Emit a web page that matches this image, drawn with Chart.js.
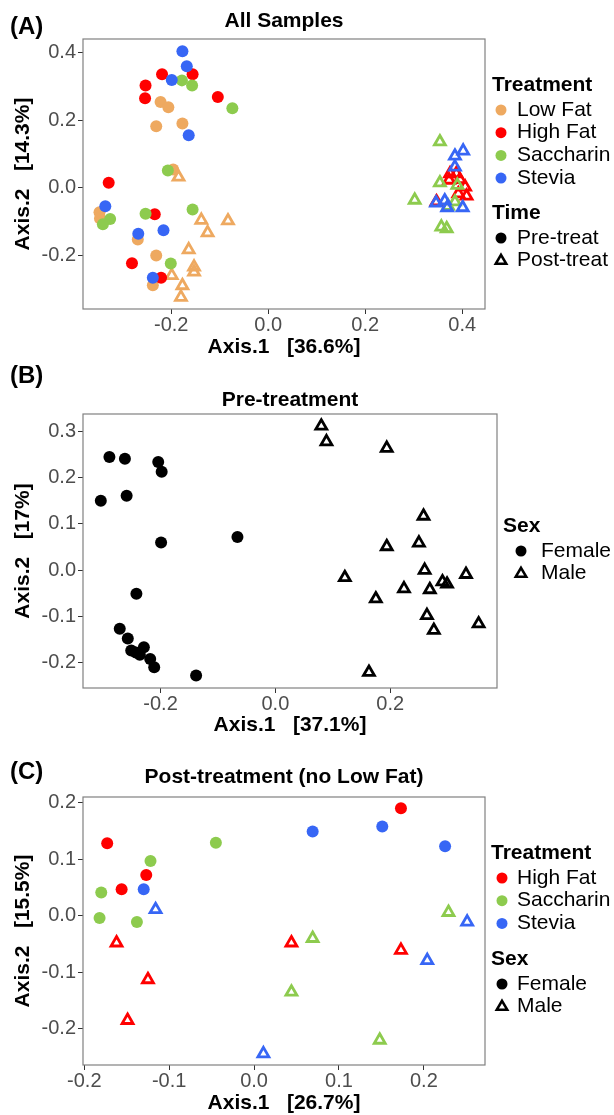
<!DOCTYPE html>
<html>
<head>
<meta charset="utf-8">
<script src="https://cdn.jsdelivr.net/npm/chart.js@4.4.0/dist/chart.umd.min.js"></script>
<style>
    body { margin: 0; background: #fff; width: 614px; height: 1115px; position: relative; overflow: hidden; }
    canvas { position: absolute; left: 0; }
</style>
</head>
<body>
<canvas id="chartA" width="614" height="358" style="top:0px"></canvas>
<canvas id="chartB" width="614" height="385" style="top:358px"></canvas>
<canvas id="chartC" width="614" height="372" style="top:743px"></canvas>
<script>
// ---- data: [Axis.1, Axis.2] ----
// (A) all samples, circles = pre-treat, triangles = post-treat
const aLowFatPre = [[-0.222, 0.253], [-0.206, 0.238], [-0.231, 0.182], [-0.177, 0.190], [-0.196, 0.054],
    [-0.348, -0.072], [-0.347, -0.090], [-0.269, -0.152], [-0.231, -0.199], [-0.238, -0.287]];
const aHighFatPre = [[-0.219, 0.335], [-0.156, 0.335], [-0.253, 0.302], [-0.254, 0.264], [-0.104, 0.268],
    [-0.329, 0.015], [-0.234, -0.078], [-0.281, -0.222], [-0.221, -0.265]];
const aSaccharinPre = [[-0.178, 0.317], [-0.157, 0.302], [-0.074, 0.235], [-0.207, 0.051], [-0.253, -0.076],
    [-0.156, -0.064], [-0.326, -0.092], [-0.341, -0.107], [-0.201, -0.223]];
const aSteviaPre = [[-0.177, 0.403], [-0.168, 0.359], [-0.199, 0.318], [-0.164, 0.155], [-0.336, -0.054],
    [-0.268, -0.135], [-0.216, -0.125], [-0.238, -0.265]];
const aLowFatPost = [[-0.185, 0.032], [-0.138, -0.095], [-0.125, -0.132], [-0.083, -0.097], [-0.164, -0.182],
    [-0.153, -0.233], [-0.153, -0.248], [-0.199, -0.258], [-0.177, -0.288], [-0.180, -0.322]];
const aHighFatPost = [[0.375, 0.042], [0.388, 0.042], [0.373, 0.023], [0.395, 0.025], [0.406, 0.003],
    [0.409, -0.024], [0.392, -0.017], [0.347, -0.041]];
const aSaccharinPost = [[0.354, 0.136], [0.354, 0.015], [0.302, -0.036], [0.390, 0.008], [0.357, -0.115],
    [0.368, -0.120], [0.385, -0.041], [0.371, -0.054]];
const aSteviaPost = [[0.402, 0.109], [0.385, 0.094], [0.385, 0.062], [0.346, -0.044], [0.364, -0.038],
    [0.369, -0.058], [0.401, -0.058]];

// (B) pre-treatment by sex
const bFemale = [[-0.304, 0.150], [-0.289, 0.245], [-0.262, 0.241], [-0.259, 0.161], [-0.204, 0.234],
    [-0.198, 0.213], [-0.199, 0.060], [-0.066, 0.072], [-0.242, -0.051], [-0.271, -0.127], [-0.257, -0.148],
    [-0.251, -0.174], [-0.243, -0.178], [-0.236, -0.183], [-0.229, -0.167], [-0.218, -0.192], [-0.211, -0.210],
    [-0.138, -0.228]];
const bMale = [[0.080, 0.312], [0.089, 0.278], [0.194, 0.264], [0.258, 0.117], [0.194, 0.051], [0.250, 0.059],
    [0.121, -0.016], [0.260, 0.000], [0.332, -0.009], [0.224, -0.040], [0.269, -0.042], [0.291, -0.025],
    [0.299, -0.030], [0.175, -0.062], [0.264, -0.098], [0.276, -0.130], [0.354, -0.116], [0.163, -0.221]];

// (C) post-treatment, no low fat
const cHighFatFemale = [[-0.173, 0.128], [-0.156, 0.047], [-0.127, 0.072], [0.173, 0.190]];
const cSaccharinFemale = [[-0.122, 0.097], [-0.180, 0.041], [-0.182, -0.004], [-0.138, -0.011], [-0.045, 0.129]];
const cSteviaFemale = [[-0.130, 0.047], [0.069, 0.149], [0.151, 0.158], [0.225, 0.123]];
const cHighFatMale = [[-0.162, -0.048], [-0.125, -0.113], [-0.149, -0.185], [0.044, -0.048], [0.173, -0.061]];
const cSaccharinMale = [[0.044, -0.135], [0.069, -0.040], [0.229, 0.006], [0.148, -0.220]];
const cSteviaMale = [[-0.116, 0.011], [0.011, -0.244], [0.251, -0.011], [0.204, -0.079]];

// tick labels
const aXTicks = [-0.2, 0.0, 0.2, 0.4];
const aYTicks = [-0.2, 0.0, 0.2, 0.4];
const bXTicks = [-0.2, 0.0, 0.2];
const bYTicks = [-0.2, -0.1, 0.0, 0.1, 0.2, 0.3];
const cXTicks = [-0.2, -0.1, 0.0, 0.1, 0.2];
const cYTicks = [-0.2, -0.1, 0.0, 0.1, 0.2];

const FONT = '"Liberation Sans", Arial, Helvetica, sans-serif';
const LOW = '#EEA960', HIGH = '#FF0000', SAC = '#8DCB4E', STE = '#3766F5', BLK = '#000000';

const toXY = arr => arr.map(p => ({ x: p[0], y: p[1] }));

const circles = (arr, color) => ({
    data: toXY(arr),
    pointStyle: 'circle',
    pointRadius: 6,
    pointBackgroundColor: color,
    pointBorderColor: color,
    pointBorderWidth: 0
});
const triangles = (arr, color) => ({
    data: toXY(arr),
    pointStyle: 'triangle',
    pointRadius: 6.3,
    pointBackgroundColor: 'rgba(0,0,0,0)',
    pointBorderColor: color,
    pointBorderWidth: 2.8
});

// box, panel tag, title and legend all drawn on the canvas
const decor = {
    id: 'decor',
    afterDraw(chart, args, o) {
        const ctx = chart.ctx, a = chart.chartArea;
        ctx.save();
        ctx.strokeStyle = '#808080';
        ctx.lineWidth = 1.2;
        ctx.strokeRect(a.left, a.top, a.right - a.left, a.bottom - a.top);

        ctx.fillStyle = '#000';
        ctx.textBaseline = 'middle';
        ctx.textAlign = 'left';
        ctx.font = 'bold 24px ' + FONT;
        ctx.fillText(o.tag, 10, o.tagY);
        ctx.textAlign = 'center';
        ctx.font = 'bold 21px ' + FONT;
        ctx.fillText(o.title, (a.left + a.right) / 2, o.titleY);

        const lg = o.legend;
        lg.groups.forEach(g => {
            ctx.textAlign = 'left';
            ctx.fillStyle = '#000';
            ctx.font = 'bold 21px ' + FONT;
            ctx.fillText(g.title, lg.x, g.y);
            g.items.forEach((it, i) => {
                const y = g.y + 25 + i * 22.7;
                if (it.sym === 'circle') {
                    ctx.fillStyle = it.color;
                    ctx.beginPath();
                    ctx.arc(lg.symX, y, 5.5, 0, Math.PI * 2);
                    ctx.fill();
                } else {
                    ctx.strokeStyle = it.color;
                    ctx.lineWidth = 2.6;
                    ctx.beginPath();
                    ctx.moveTo(lg.symX, y - 5.8);
                    ctx.lineTo(lg.symX + 5.2, y + 3);
                    ctx.lineTo(lg.symX - 5.2, y + 3);
                    ctx.closePath();
                    ctx.stroke();
                }
                ctx.fillStyle = '#000';
                ctx.font = '21px ' + FONT;
                ctx.fillText(it.label, lg.textX, y);
            });
        });
        ctx.restore();
    }
};

const makePanel = (id, p) => {
    const axis = (min, max, ticks, title, horizontal, size, titlePad) => ({
        type: 'linear',
        min: min,
        max: max,
        afterBuildTicks: s => { s.ticks = ticks.map(v => ({ value: v })); },
        afterFit: s => { if (horizontal) s.height = size; else s.width = size; },
        grid: { drawOnChartArea: false, drawTicks: true, tickLength: 5, color: '#333333', lineWidth: 1 },
        border: { display: false },
        ticks: {
            color: '#4D4D4D',
            font: { family: FONT, size: 20, lineHeight: 1 },
            padding: horizontal ? 1 : 2,
            maxRotation: 0,
            callback: v => v.toFixed(1)
        },
        title: {
            display: true,
            text: title,
            color: '#000',
            font: { family: FONT, size: 21, weight: 'bold', lineHeight: 1 },
            padding: titlePad
        }
    });
    return new Chart(document.getElementById(id), {
        type: 'scatter',
        data: { datasets: p.datasets },
        options: {
            responsive: false,
            animation: false,
            devicePixelRatio: 1,
            layout: { padding: { top: p.top, right: p.right, left: 0, bottom: 0 } },
            plugins: { legend: { display: false }, tooltip: { enabled: false }, decor: p.decor },
            scales: {
                x: axis(p.xMin, p.xMax, p.xTicks, p.xTitle, true, p.xH, { top: 0, bottom: p.xTitlePad }),
                y: axis(p.yMin, p.yMax, p.yTicks, p.yTitle, false, 83, { top: 12.5, bottom: 0 })
            }
        },
        plugins: [decor]
    });
};

const treatA = [
    { label: 'Low Fat', sym: 'circle', color: LOW },
    { label: 'High Fat', sym: 'circle', color: HIGH },
    { label: 'Saccharin', sym: 'circle', color: SAC },
    { label: 'Stevia', sym: 'circle', color: STE }
];

makePanel('chartA', {
    top: 39, right: 129, xH: 49, xTitlePad: 0.5,
    xMin: -0.382, xMax: 0.447, yMin: -0.357, yMax: 0.439,
    xTicks: aXTicks, yTicks: aYTicks,
    xTitle: 'Axis.1   [36.6%]', yTitle: 'Axis.2   [14.3%]',
    datasets: [
        triangles(aSteviaPost, STE), triangles(aSaccharinPost, SAC), triangles(aHighFatPost, HIGH),
        circles(aSteviaPre, STE), circles(aSaccharinPre, SAC), circles(aHighFatPre, HIGH),
        triangles(aLowFatPost, LOW), circles(aLowFatPre, LOW)
    ],
    decor: {
        tag: '(A)', tagY: 27, title: 'All Samples', titleY: 21,
        legend: {
            x: 492, symX: 501, textX: 517,
            groups: [
                { title: 'Treatment', y: 85, items: treatA },
                { title: 'Time', y: 213, items: [
                    { label: 'Pre-treat', sym: 'circle', color: BLK },
                    { label: 'Post-treat', sym: 'triangle', color: BLK }
                ] }
            ]
        }
    }
});

makePanel('chartB', {
    top: 56, right: 117, xH: 55, xTitlePad: 7.5,
    xMin: -0.335, xMax: 0.386, yMin: -0.255, yMax: 0.338,
    xTicks: bXTicks, yTicks: bYTicks,
    xTitle: 'Axis.1   [37.1%]', yTitle: 'Axis.2   [17%]',
    datasets: [circles(bFemale, BLK), triangles(bMale, BLK)],
    decor: {
        tag: '(B)', tagY: 18, title: 'Pre-treatment', titleY: 42,
        legend: {
            x: 503, symX: 521, textX: 541,
            groups: [
                { title: 'Sex', y: 168, items: [
                    { label: 'Female', sym: 'circle', color: BLK },
                    { label: 'Male', sym: 'triangle', color: BLK }
                ] }
            ]
        }
    }
});

makePanel('chartC', {
    top: 54, right: 129, xH: 50, xTitlePad: 1.5,
    xMin: -0.2015, xMax: 0.272, yMin: -0.264, yMax: 0.21,
    xTicks: cXTicks, yTicks: cYTicks,
    xTitle: 'Axis.1   [26.7%]', yTitle: 'Axis.2   [15.5%]',
    datasets: [
        triangles(cSteviaMale, STE), triangles(cSaccharinMale, SAC), triangles(cHighFatMale, HIGH),
        circles(cSteviaFemale, STE), circles(cSaccharinFemale, SAC), circles(cHighFatFemale, HIGH)
    ],
    decor: {
        tag: '(C)', tagY: 29, title: 'Post-treatment (no Low Fat)', titleY: 34,
        legend: {
            x: 491, symX: 502, textX: 517,
            groups: [
                { title: 'Treatment', y: 110, items: treatA.slice(1) },
                { title: 'Sex', y: 216, items: [
                    { label: 'Female', sym: 'circle', color: BLK },
                    { label: 'Male', sym: 'triangle', color: BLK }
                ] }
            ]
        }
    }
});
</script>
</body>
</html>
